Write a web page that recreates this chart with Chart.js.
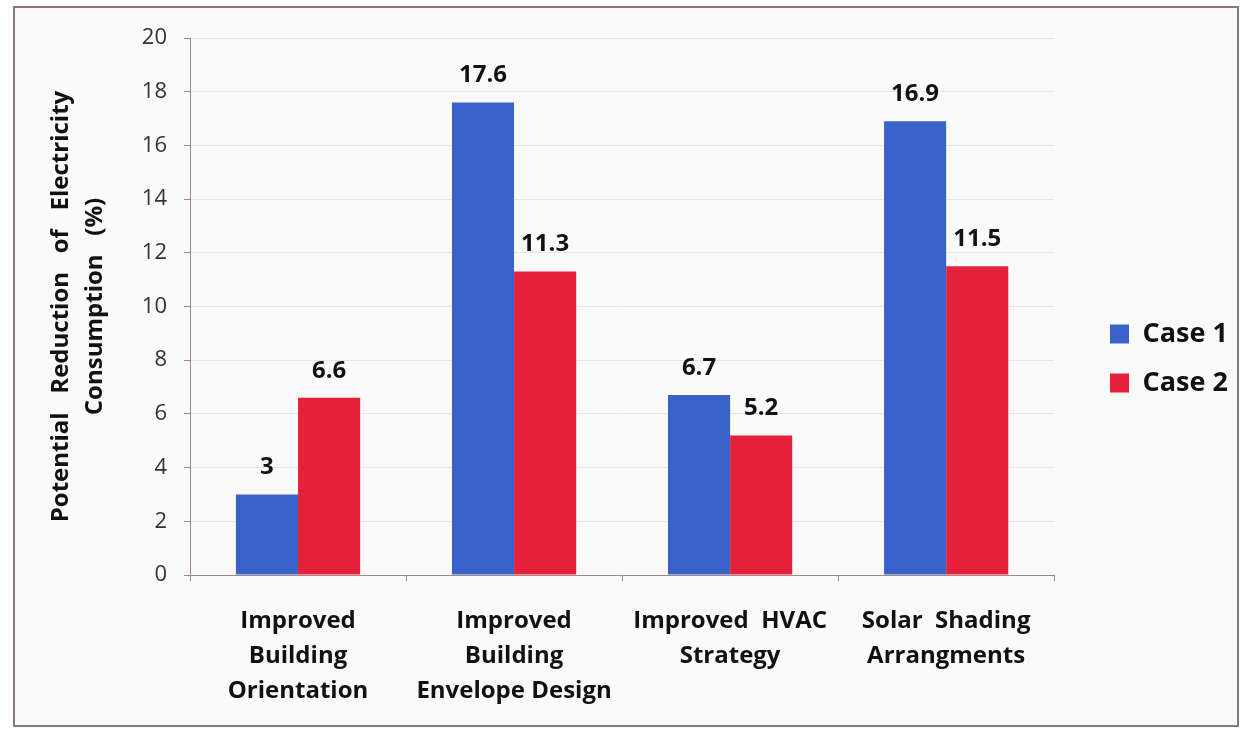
<!DOCTYPE html>
<html>
<head>
<meta charset="utf-8">
<script src="https://cdn.jsdelivr.net/npm/chart.js@4.4.0/dist/chart.umd.min.js"></script>
<style>
  body { margin: 0; background: #ffffff; }
  #frame { position: absolute; left: 13px; top: 6px; width: 1222px; height: 717px; border: 2px solid #8c7676; background: #fafafa; }
  #wrap { position: absolute; left: 0; top: 0; width: 1244px; height: 736px; }
</style>
</head>
<body>
<div id="frame"></div>
<div id="wrap"><canvas id="myChart" width="1244" height="736"></canvas></div>
<script>
const categorias = [
  ['Improved', 'Building', 'Orientation'],
  ['Improved', 'Building', 'Envelope Design'],
  ['Improved  HVAC', 'Strategy'],
  ['Solar  Shading', 'Arrangments']
];
const caso1 = [3, 17.6, 6.7, 16.9];
const caso2 = [6.6, 11.3, 5.2, 11.5];
const ejeY = { min: 0, max: 20, paso: 2 };

const fuente = '"Open Sans", Lato, sans-serif';

// etiquetas de valor sobre cada barra
const etiquetas = {
  id: 'etiquetas',
  afterDatasetsDraw(chart) {
    const ctx = chart.ctx;
    ctx.save();
    ctx.font = 'bold 24px ' + fuente;
    ctx.fillStyle = '#111';
    ctx.textAlign = 'center';
    ctx.textBaseline = 'middle';
    chart.data.datasets.forEach((ds, i) => {
      chart.getDatasetMeta(i).data.forEach((bar, j) => {
        ctx.fillText(String(ds.data[j]), bar.x, bar.y - 27);
      });
    });
    ctx.restore();
  }
};

// mueve la leyenda a su sitio
const moverLeyenda = {
  id: 'moverLeyenda',
  afterLayout(chart) {
    const l = chart.legend;
    if (!l) return;
    const dx = 1110 - 22 - l.left;
    const dy = -23;
    l.left += dx; l.right += dx;
    l.top += dy; l.bottom += dy;
  }
};

const ctx = document.getElementById('myChart').getContext('2d');
const chart = new Chart(ctx, {
  type: 'bar',
  data: {
    labels: categorias,
    datasets: [
      { label: 'Case 1', data: caso1, backgroundColor: '#3a63c9', borderWidth: 0 },
      { label: 'Case 2', data: caso2, backgroundColor: '#e5213a', borderWidth: 0 }
    ]
  },
  options: {
    responsive: false,
    animation: false,
    layout: { padding: { left: 14, top: 38, right: 40, bottom: 11 } },
    datasets: { bar: { categoryPercentage: 0.575, barPercentage: 1 } },
    plugins: {
      tooltip: { enabled: false },
      legend: {
        position: 'right',
        labels: {
          boxWidth: 19,
          boxHeight: 19,
          padding: 22,
          color: '#111',
          font: { family: fuente, size: 27, weight: 'bold' }
        }
      }
    },
    scales: {
      x: {
        afterFit: s => { s.height = 150; },
        grid: { offset: true, drawOnChartArea: false, drawTicks: true, tickLength: 6, color: '#a08686' },
        border: { color: '#a08686', width: 1 },
        ticks: { color: '#111', padding: 23, font: { family: fuente, size: 24, weight: 'bold', lineHeight: 1.46 }, maxRotation: 0 }
      },
      y: {
        min: ejeY.min,
        max: ejeY.max,
        afterFit: s => { s.width = 176; },
        ticks: { stepSize: ejeY.paso, color: '#333', padding: 17, font: { family: fuente, size: 22 } },
        grid: { color: '#e6e6e6', tickLength: 6, tickColor: '#a08686' },
        border: { color: '#a08686', width: 1 },
        title: {
          display: true,
          text: ['Potential   Reduction   of   Electricity', 'Consumption   (%)'],
          color: '#111',
          font: { family: fuente, size: 24, weight: 'bold', lineHeight: 1.38 },
          padding: { top: 31, bottom: 0 }
        }
      }
    }
  },
  plugins: [etiquetas, moverLeyenda]
});
</script>
</body>
</html>
